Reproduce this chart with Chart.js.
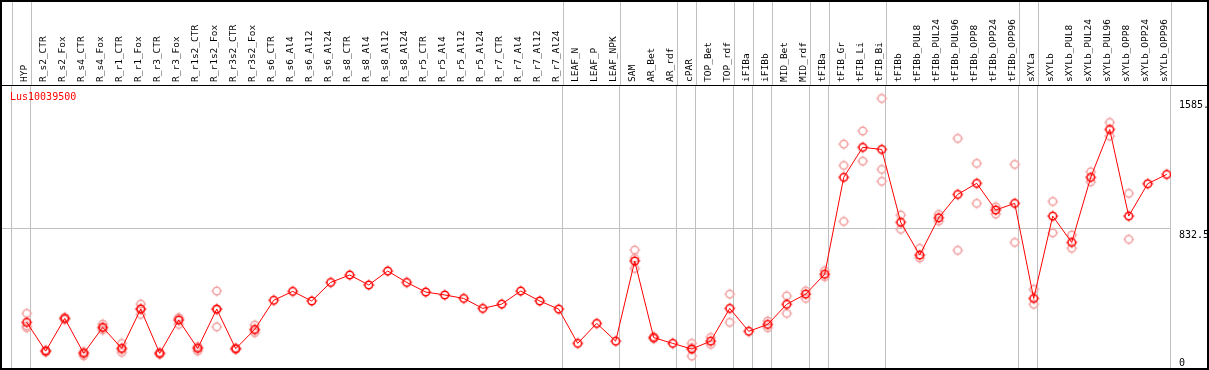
<!DOCTYPE html>
<html>
<head>
<meta charset="utf-8">
<script src="https://cdn.jsdelivr.net/npm/chart.js@4.4.1/dist/chart.umd.min.js"></script>
<style>
html, body { margin: 0; padding: 0; background: #fff; }
</style>
</head>
<body>
<canvas id="chart" width="1209" height="370"></canvas>
<script>
const geneName = "Lus10039500";

const samples = [
    "HYP", "R_s2_CTR", "R_s2_Fox", "R_s4_CTR", "R_s4_Fox", "R_r1_CTR", "R_r1_Fox",
    "R_r3_CTR", "R_r3_Fox", "R_r1s2_CTR", "R_r1s2_Fox", "R_r3s2_CTR", "R_r3s2_Fox",
    "R_s6_CTR", "R_s6_Al4", "R_s6_Al12", "R_s6_Al24", "R_s8_CTR", "R_s8_Al4", "R_s8_Al12",
    "R_s8_Al24", "R_r5_CTR", "R_r5_Al4", "R_r5_Al12", "R_r5_Al24", "R_r7_CTR", "R_r7_Al4",
    "R_r7_Al12", "R_r7_Al24", "LEAF_N", "LEAF_P", "LEAF_NPK", "SAM", "AR_Bet", "AR_rdf",
    "cPAR", "TOP_Bet", "TOP_rdf", "iFIBa", "iFIBb", "MID_Bet", "MID_rdf", "tFIBa",
    "tFIB_Gr", "tFIB_Li", "tFIB_Bi", "tFIBb", "tFIBb_PUL8", "tFIBb_PUL24", "tFIBb_PUL96",
    "tFIBb_OPP8", "tFIBb_OPP24", "tFIBb_OPP96", "sXYLa", "sXYLb", "sXYLb_PUL8",
    "sXYLb_PUL24", "sXYLb_PUL96", "sXYLb_OPP8", "sXYLb_OPP24", "sXYLb_OPP96"
];

// mean expression per sample
const meanValues = [
    285, 118, 308, 105, 256, 134, 362, 105, 298, 134, 362, 132, 244,
    413, 465, 409, 517, 560, 502, 583, 517, 461, 444, 424, 366, 391, 467, 409, 362,
    163, 279, 176, 641, 196, 163, 130, 176, 366, 233, 273, 390, 449, 565,
    1127, 1301, 1289, 866, 676, 892, 1028, 1092, 937, 976,
    424, 902, 749, 1127, 1405, 902, 1090, 1144
];

// single replicates per sample
const replicates = [
    [337, 254, 264], [112, 118, 124], [302, 308, 314], [91, 110, 114], [275, 240, 253],
    [163, 111, 128], [391, 331, 364], [100, 105, 110], [312, 273, 309], [118, 140, 144],
    [467, 259, 360], [128, 132, 136], [269, 225, 238],
    [], [], [], [], [], [], [], [], [], [], [], [], [], [], [], [],
    [], [], [], [705, 657, 598], [201, 190], [], [163, 89, 138], [198, 157], [449, 285],
    [], [293, 254], [439, 337], [468, 424], [585, 550],
    [1320, 1196, 871], [1396, 1221], [1585, 1173, 1104], [908, 825], [715, 658],
    [912, 873], [1353, 703], [1208, 976], [956, 914], [1202, 749],
    [477, 390], [987, 805], [792, 715], [1159, 1101], [1446, 1366], [1034, 767], [], []
];

// sample index after which a group separator is drawn
const groupEnds = [-1, 0, 28, 31, 34, 35, 37, 38, 39, 41, 42, 45, 52, 53, 60];

const yLabelValues = [1585.7, 832.5, 0];
const yLabelTexts = ["1585.", "832.5", "0"];

const X_MIN = -1.353, X_MAX = 60.226;
const SEP_OFFSET = 0.21;
const monoFont = '"DejaVu Sans Mono", monospace';

function makeMarker(color) {
    const c = document.createElement('canvas');
    c.width = 14;
    c.height = 14;
    const g = c.getContext('2d');
    g.strokeStyle = color;
    g.lineWidth = 1.5;
    g.beginPath();
    g.arc(7, 7, 3.8, 0, Math.PI * 2);
    g.stroke();
    g.lineWidth = 1;
    g.beginPath();
    g.moveTo(7, 1.5); g.lineTo(7, 3);
    g.moveTo(7, 11); g.lineTo(7, 12.5);
    g.moveTo(1.5, 7); g.lineTo(3, 7);
    g.moveTo(11, 7); g.lineTo(12.5, 7);
    g.stroke();
    return c;
}

const meanPoints = meanValues.map((v, i) => ({ x: i, y: v }));
const repPoints = [];
replicates.forEach((reps, i) => {
    reps.forEach(v => repPoints.push({ x: i, y: v }));
});

const framePlugin = {
    id: 'frame',
    afterDraw(chart) {
        const ctx = chart.ctx;
        const area = chart.chartArea;
        const xs = chart.scales.x;
        ctx.save();
        // separators running up through the header
        ctx.strokeStyle = '#c0c0c0';
        ctx.lineWidth = 1;
        xs.ticks.forEach(t => {
            const px = Math.round(xs.getPixelForValue(t.value)) + 0.5;
            ctx.beginPath();
            ctx.moveTo(px, 0);
            ctx.lineTo(px, area.top);
            ctx.stroke();
        });
        // black frame
        ctx.fillStyle = '#000';
        ctx.fillRect(0, 0, chart.width, 2);
        ctx.fillRect(0, area.top, chart.width, 1);
        ctx.fillRect(0, area.bottom, chart.width, 2);
        ctx.fillRect(0, 0, 2, area.bottom + 1);
        ctx.fillRect(chart.width - 2, 0, 2, area.bottom + 1);
        // gene name
        ctx.fillStyle = '#ff0000';
        ctx.font = '10px ' + monoFont;
        ctx.textBaseline = 'middle';
        ctx.textAlign = 'left';
        ctx.fillText(geneName, area.left + 9, area.top + 12);
        // value labels on the right
        const ys = chart.scales.y;
        ctx.fillStyle = '#000';
        ctx.textBaseline = 'top';
        yLabelValues.forEach((v, i) => {
            let py = ys.getPixelForValue(v) + 2;
            py = Math.min(py, area.bottom - 10);
            ctx.fillText(yLabelTexts[i], area.right + 8, py);
        });
        ctx.restore();
    }
};

new Chart(document.getElementById('chart'), {
    type: 'line',
    data: {
        datasets: [{
            label: 'mean',
            data: meanPoints,
            borderColor: '#ff0000',
            borderWidth: 1,
            pointStyle: makeMarker('#ff0000'),
            tension: 0,
            order: 1
        }, {
            label: 'replicates',
            data: repPoints,
            showLine: false,
            pointStyle: makeMarker('#f2a0a0'),
            order: 2
        }]
    },
    options: {
        responsive: false,
        animation: false,
        devicePixelRatio: 1,
        layout: { autoPadding: false, padding: { left: 1, right: 0, top: 0, bottom: 0 } },
        plugins: {
            legend: { display: false },
            tooltip: { enabled: false }
        },
        scales: {
            x: {
                type: 'linear',
                position: 'bottom',
                min: X_MIN,
                max: X_MAX,
                afterBuildTicks: scale => {
                    scale.ticks = groupEnds.map(e => ({ value: e + SEP_OFFSET }));
                },
                afterFit: scale => {
                    scale.height = 2;
                    scale.paddingLeft = 0;
                    scale.paddingRight = 0;
                },
                ticks: { display: false },
                grid: { color: '#c0c0c0', lineWidth: 1, drawTicks: false },
                border: { display: false }
            },
            names: {
                type: 'linear',
                position: 'top',
                min: X_MIN,
                max: X_MAX,
                afterBuildTicks: scale => {
                    scale.ticks = samples.map((s, i) => ({ value: i }));
                },
                afterFit: scale => {
                    scale.height = 85;
                    scale.paddingLeft = 0;
                    scale.paddingRight = 0;
                },
                ticks: {
                    autoSkip: false,
                    minRotation: 90,
                    maxRotation: 90,
                    padding: 3,
                    labelOffset: 9,
                    color: '#000',
                    font: { family: monoFont, size: 9.5 },
                    callback: v => samples[v]
                },
                grid: { display: false, drawTicks: false },
                border: { display: false }
            },
            y: {
                position: 'right',
                min: 20,
                max: 1663,
                afterBuildTicks: scale => {
                    scale.ticks = [{ value: 832.5 }];
                },
                afterFit: scale => { scale.width = 38; },
                ticks: { display: false },
                grid: { color: '#c0c0c0', lineWidth: 1, drawTicks: false },
                border: { display: false }
            }
        }
    },
    plugins: [framePlugin]
});
</script>
</body>
</html>
